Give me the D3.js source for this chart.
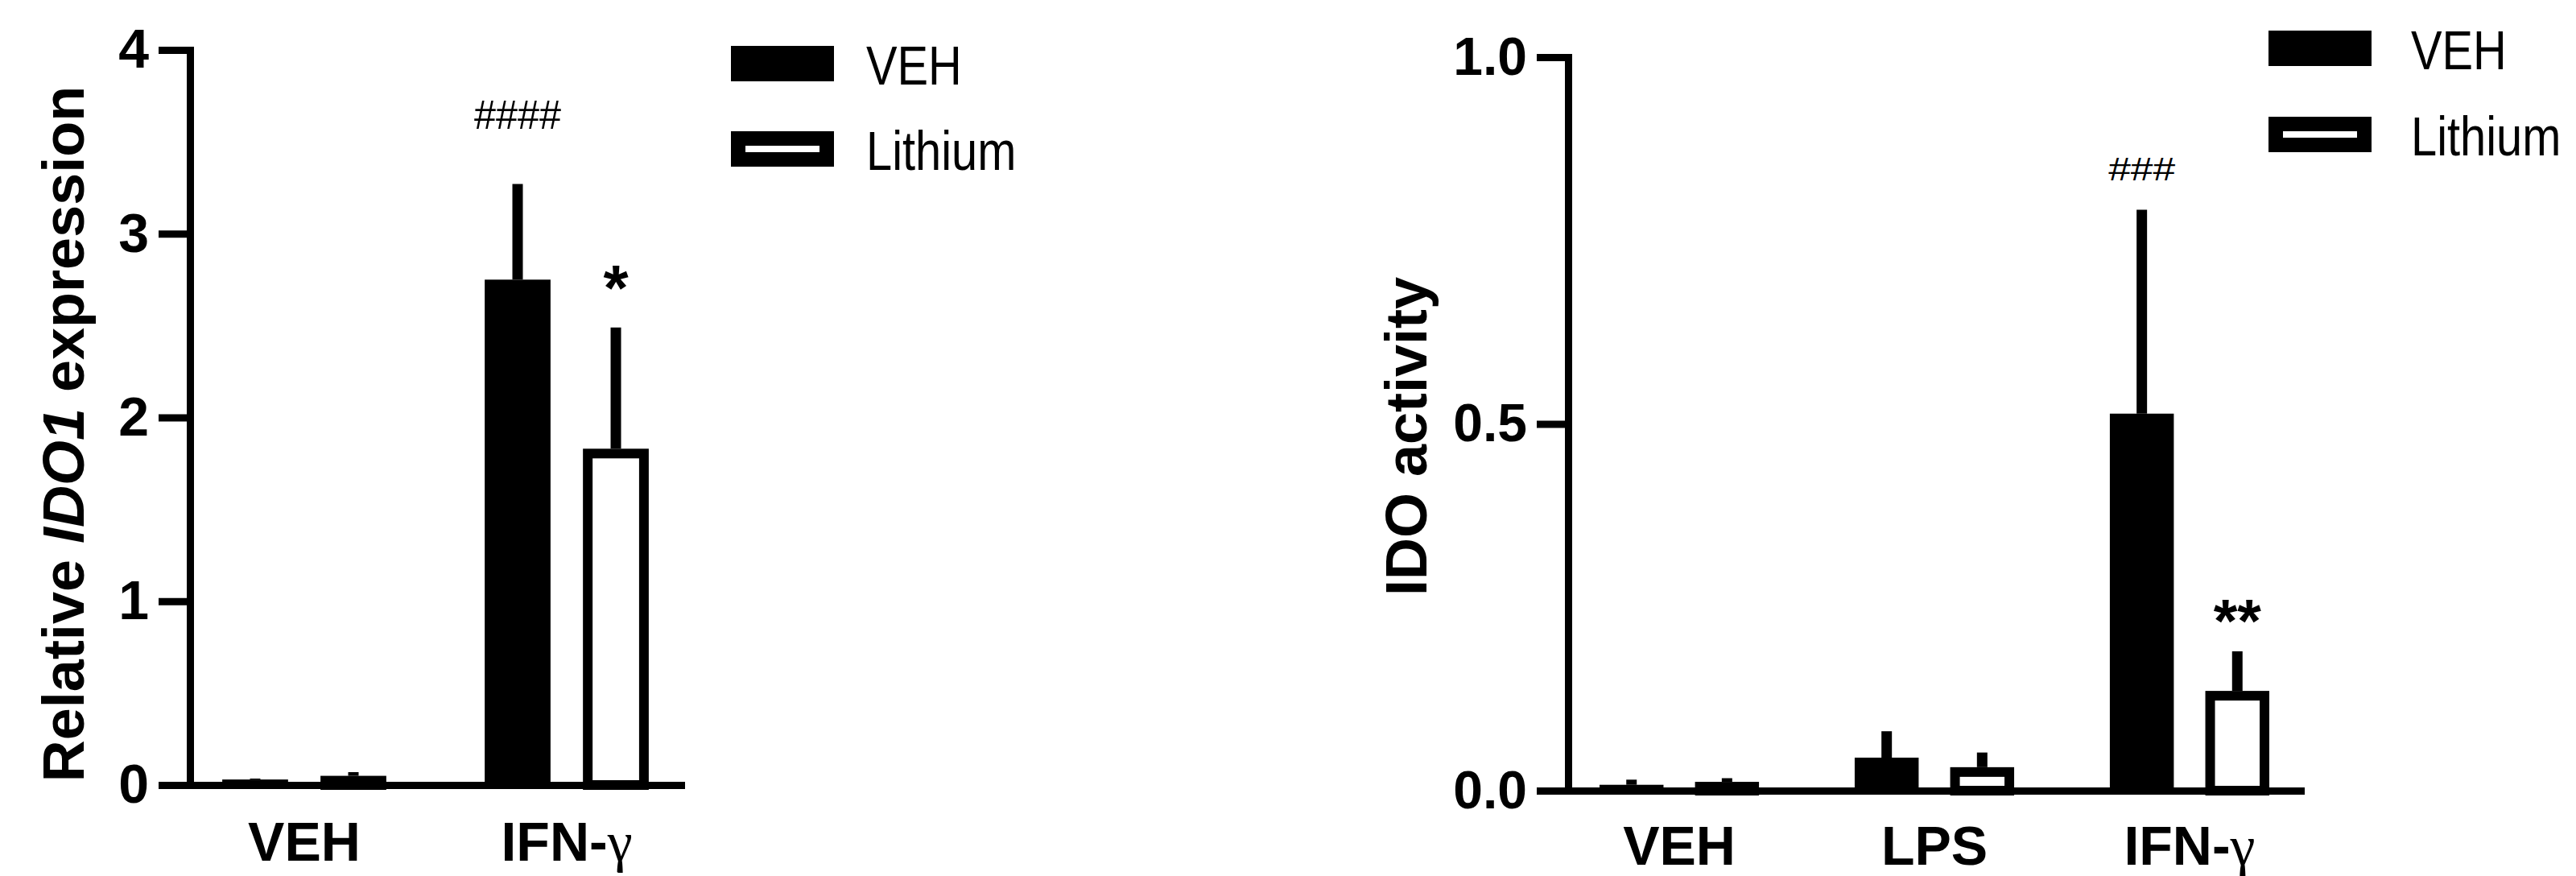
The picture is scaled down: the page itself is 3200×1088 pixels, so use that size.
<!DOCTYPE html>
<html>
<head>
<meta charset="utf-8">
<script src="https://cdn.jsdelivr.net/npm/d3@7"></script>
<style>
  body { margin: 0; background: #fff; }
  text { font-family: "Liberation Sans", Arial, sans-serif; fill: #000; }
</style>
</head>
<body>
<script>
// ---- data ----
const treatments = ["VEH", "Lithium"];

// left panel: relative IDO1 expression
const leftGroups = ["VEH", "IFN-γ"];
const leftVeh = [0.03, 2.75];
const leftVehErr = [0.005, 0.52];
const leftLi = [0.05, 1.83];
const leftLiErr = [0.02, 0.66];
const leftTicks = [0, 1, 2, 3, 4];
const leftStars = [
  { group: "IFN-γ", series: "VEH", text: "####", level: 3.57 },
  { group: "IFN-γ", series: "Lithium", text: "*", level: 2.585 }
];

// right panel: IDO activity
const rightGroups = ["VEH", "LPS", "IFN-γ"];
const rightVeh = [0.008, 0.045, 0.514];
const rightVehErr = [0.007, 0.036, 0.278];
const rightLi = [0.012, 0.032, 0.136];
const rightLiErr = [0.005, 0.020, 0.054];
const rightTicks = [0, 0.5, 1.0];
const rightStars = [
  { group: "IFN-γ", series: "VEH", text: "###", level: 0.832 },
  { group: "IFN-γ", series: "Lithium", text: "**", level: 0.203 }
];

const width = 3200, height = 1088;
const svg = d3.select("body").append("svg")
  .attr("width", width)
  .attr("height", height);

const lineW = 9;     // axis thickness
const outlineW = 12; // open bar border
const errW = 13;     // error stem

function panel(cfg) {
  const g = svg.append("g");

  const y = d3.scaleLinear().domain(cfg.domain).range([cfg.y0, cfg.y1]);
  const x0 = d3.scaleBand().domain(cfg.groups)
    .range([cfg.xStart, cfg.xEnd])
    .paddingInner(0.375).paddingOuter(0.123);
  const x1 = d3.scaleBand().domain(treatments)
    .range([0, x0.bandwidth()])
    .paddingInner(0.33);

  const rows = [];
  cfg.groups.forEach((grp, i) => {
    rows.push({ group: grp, series: "VEH", v: cfg.veh[i], e: cfg.vehErr[i] });
    rows.push({ group: grp, series: "Lithium", v: cfg.li[i], e: cfg.liErr[i] });
  });
  const cx = d => x0(d.group) + x1(d.series) + x1.bandwidth() / 2;

  // error stems (upper only)
  g.selectAll(".err").data(rows).join("line")
    .attr("x1", cx).attr("x2", cx)
    .attr("y1", d => y(d.v)).attr("y2", d => y(d.v + d.e))
    .attr("stroke", "#000").attr("stroke-width", errW);

  // bars
  g.selectAll(".bar").data(rows).join("rect")
    .attr("x", d => x0(d.group) + x1(d.series) + (d.series === "VEH" ? 0 : outlineW / 2))
    .attr("width", d => x1.bandwidth() - (d.series === "VEH" ? 0 : outlineW))
    .attr("y", d => y(d.v) + (d.series === "VEH" ? 0 : outlineW / 2))
    .attr("height", d => Math.max(0, y(0) - y(d.v) - (d.series === "VEH" ? 0 : outlineW / 2)))
    .attr("fill", d => d.series === "VEH" ? "#000" : "#fff")
    .attr("stroke", d => d.series === "VEH" ? "none" : "#000")
    .attr("stroke-width", outlineW);

  // y axis
  const ya = g.append("g")
    .attr("transform", `translate(${cfg.xStart},0)`)
    .call(d3.axisLeft(y).tickValues(cfg.ticks).tickFormat(cfg.fmt)
      .tickSize(39).tickSizeOuter(0).tickPadding(12));
  ya.select(".domain").attr("stroke-width", lineW).attr("stroke-linecap", "square");
  ya.selectAll(".tick line").attr("stroke-width", lineW);
  ya.selectAll(".tick text")
    .style("font-size", cfg.tickFont + "px").style("font-weight", "bold");

  // x axis
  const xa = g.append("g")
    .attr("transform", `translate(0,${y(0)})`)
    .call(d3.axisBottom(x0).tickSize(0).tickSizeOuter(0).tickPadding(cfg.labelPad));
  xa.select(".domain").attr("stroke-width", lineW).attr("stroke-linecap", "square");
  xa.selectAll(".tick text")
    .style("font-size", "68px").style("font-weight", "bold")
    .each(function (d) {
      // greek gamma set in a serif face, as in the original
      if (!d.endsWith("γ")) return;
      const t = d3.select(this).text("");
      t.append("tspan").text(d.slice(0, -1));
      t.append("tspan")
        .style("font-family", "'Liberation Serif', 'DejaVu Serif', serif")
        .style("font-weight", "normal")
        .style("font-size", "70px")
        .text("γ");
    });

  // significance marks
  cfg.stars.forEach(s => {
    const isHash = s.text.startsWith("#");
    const t = g.append("text")
      .attr("x", x0(s.group) + x1(s.series) + x1.bandwidth() / 2)
      .attr("y", y(s.level))
      .attr("text-anchor", "middle")
      .style("font-size", (isHash ? cfg.hashSize : cfg.starSize) + "px")
      .style("font-weight", isHash ? "normal" : "bold")
      .text(s.text);
    if (isHash) t.attr("textLength", cfg.hashLen).attr("lengthAdjust", "spacingAndGlyphs");
  });

  // y title
  const title = g.append("text")
    .attr("transform", `translate(${cfg.titleX},${cfg.titleY}) rotate(-90)`)
    .attr("text-anchor", "middle")
    .style("font-size", "72px").style("font-weight", "bold");
  cfg.title.forEach(p => {
    title.append("tspan").style("font-style", p.italic ? "italic" : "normal").text(p.t);
  });

  // legend
  const lg = g.append("g").attr("transform", `translate(${cfg.legX},${cfg.legY})`);
  treatments.forEach((name, i) => {
    const row = lg.append("g").attr("transform", `translate(0,${i * cfg.legGap})`);
    if (name === "VEH") {
      row.append("rect").attr("width", 128).attr("height", 44).attr("fill", "#000");
    } else {
      row.append("rect").attr("x", 9).attr("y", 9).attr("width", 110).attr("height", 26)
        .attr("fill", "#fff").attr("stroke", "#000").attr("stroke-width", 18);
    }
    // the legend face is a condensed one
    row.append("text")
      .attr("transform", `translate(${cfg.legTextDx},48) scale(0.85,1)`)
      .style("font-size", "68px")
      .text(name);
  });
}

panel({
  groups: leftGroups, veh: leftVeh, vehErr: leftVehErr, li: leftLi, liErr: leftLiErr,
  domain: [0, 4], ticks: leftTicks, fmt: d3.format("d"),
  y0: 975, y1: 62, xStart: 236, xEnd: 846,
  tickFont: 68, labelPad: 46,
  stars: leftStars, hashSize: 50, hashLen: 108, starSize: 80,
  title: [{ t: "Relative " }, { t: "IDO1", italic: true }, { t: " expression" }],
  titleX: 104, titleY: 539,
  legX: 908, legY: 57, legGap: 106, legTextDx: 168
});

panel({
  groups: rightGroups, veh: rightVeh, vehErr: rightVehErr, li: rightLi, liErr: rightLiErr,
  domain: [0, 1], ticks: rightTicks, fmt: d3.format(".1f"),
  y0: 982, y1: 71, xStart: 1948, xEnd: 2858,
  tickFont: 66, labelPad: 44,
  stars: rightStars, hashSize: 40, hashLen: 83, starSize: 76,
  title: [{ t: "IDO activity" }],
  titleX: 1772, titleY: 542,
  legX: 2818, legY: 38, legGap: 107, legTextDx: 177
});
</script>
</body>
</html>
